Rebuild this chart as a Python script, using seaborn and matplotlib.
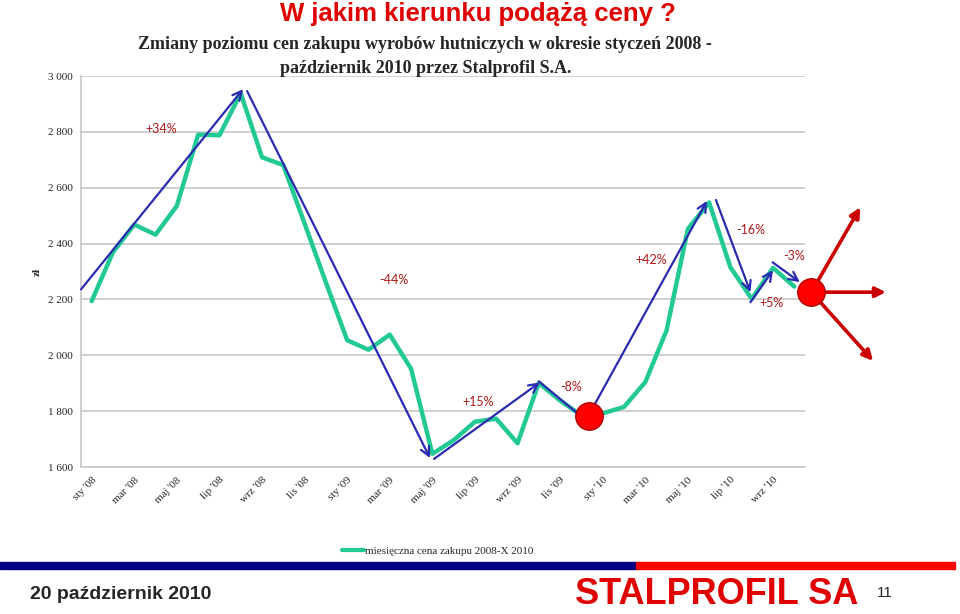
import pandas as pd
import seaborn as sns
import matplotlib.pyplot as plt
from matplotlib import font_manager
from matplotlib.lines import Line2D
from matplotlib.patches import Rectangle

# Dane: miesieczna cena zakupu (zl), styczen 2008 - pazdziernik 2010
miesiace = ["sty '08", "lut '08", "mar '08", "kwi '08", "maj '08", "cze '08",
            "lip '08", "sie '08", "wrz '08", "paź '08", "lis '08", "gru '08",
            "sty '09", "lut '09", "mar '09", "kwi '09", "maj '09", "cze '09",
            "lip '09", "sie '09", "wrz '09", "paź '09", "lis '09", "gru '09",
            "sty '10", "lut '10", "mar '10", "kwi '10", "maj '10", "cze '10",
            "lip '10", "sie '10", "wrz '10", "paź '10"]
ceny = [2194, 2369, 2468, 2432, 2535, 2790, 2788, 2938, 2709, 2681, 2472, 2261,
        2054, 2020, 2074, 1952, 1647, 1696, 1762, 1773, 1685, 1901, 1838, 1785,
        1792, 1815, 1904, 2089, 2452, 2547, 2315, 2202, 2313, 2246]

# Trendy (poczatek -> koniec, indeks miesiaca i cena)
trend_x0 = [-0.5, 7.3, 16.08, 21.0, 23.6, 29.32, 30.94, 31.98]
trend_y0 = [2236, 2946, 1629, 1907, 1821, 2556, 2190, 2333]
trend_x1 = [7.11, 15.89, 21.05, 22.8, 28.9, 30.94, 32.0, 33.26]
trend_y1 = [2953, 1632, 1903, 1793, 2553, 2226, 2305, 2262]
trend_grot = [True, True, True, False, True, True, True, True]

zmiany = ["+34%", "-44%", "+15%", "-8%", "+42%", "-16%", "-3%", "+5%"]
zmiany_x = [3.26, 14.2, 18.14, 22.5, 26.3, 30.96, 33.0, 31.95]
zmiany_y = [2810, 2271, 1832, 1886, 2343, 2450, 2357, 2186]

# punkty zwrotne i mozliwe kierunki
punkty_x = [23.34, 33.8]
punkty_y = [1782, 2226]
kierunki_x = [36.1, 37.3, 36.7]
kierunki_y = [2530, 2226, 1980]

df = pd.DataFrame({"nr": range(len(ceny)), "cena": ceny})

sns.set_theme(style="white")
plt.rcParams['font.family'] = ['Liberation Serif', 'DejaVu Serif']

# waska czcionka do logo, jesli jest
dostepne = {f.name for f in font_manager.fontManager.ttflist}
if 'DejaVu Sans Condensed' in dostepne:
    logo_font, logo_size = 'DejaVu Sans Condensed', 29
elif 'Liberation Sans Narrow' in dostepne:
    logo_font, logo_size = 'Liberation Sans Narrow', 31
else:
    logo_font, logo_size = 'Liberation Sans', 26

fig = plt.figure(figsize=(9.6, 6.14), dpi=100)
ax = fig.add_axes([0.0844, 0.2394, 0.7541, 0.6368])

zielony = '#22C994'
niebieski = '#2B2BB0'

sns.lineplot(data=df, x="nr", y="cena", ax=ax, color=zielony, lw=3.2, zorder=3)

for x0, y0, x1, y1, g in zip(trend_x0, trend_y0, trend_x1, trend_y1, trend_grot):
    ax.annotate("", xy=(x1, y1), xytext=(x0, y0), annotation_clip=False,
                arrowprops=dict(arrowstyle='->' if g else '-', color=niebieski,
                                lw=1.6, shrinkA=0, shrinkB=0, mutation_scale=16),
                zorder=4)

for kx, ky in zip(kierunki_x, kierunki_y):
    ax.annotate("", xy=(kx, ky), xytext=(punkty_x[1], punkty_y[1]), annotation_clip=False,
                arrowprops=dict(arrowstyle='-|>', color='#CC0000', lw=2.6,
                                shrinkA=0, shrinkB=0, mutation_scale=15),
                zorder=5)

ax.scatter(punkty_x, punkty_y, s=390, color='#FF0000', edgecolor='#B00000',
           lw=1, zorder=6, clip_on=False)

for t, x, y in zip(zmiany, zmiany_x, zmiany_y):
    ax.text(x, y, t, color='#B01818', fontsize=9, family=['Lato', 'DejaVu Sans'],
            ha='center', va='center', zorder=7)

ax.set_xlim(-0.5, len(ceny) - 0.5)
ax.set_ylim(1600, 3000)
yt = list(range(1600, 3001, 200))
ax.set_yticks(yt)
ax.set_yticklabels([f"{v:,}".replace(",", " ") for v in yt], fontsize=8)
ax.set_xticks(range(0, len(ceny), 2))
ax.set_xticklabels(miesiace[::2], rotation=45, ha='right', rotation_mode='anchor', fontsize=8)
ax.tick_params(length=0, pad=6)
ax.grid(axis='y', color='#C8C8C8', lw=1.2)
ax.set_xlabel("")
ax.set_ylabel("zł", fontsize=8, fontweight='bold', labelpad=4)
for s in ['top', 'right']:
    ax.spines[s].set_visible(False)
for s in ['left', 'bottom']:
    ax.spines[s].set_color('#C8C8C8')
    ax.spines[s].set_linewidth(1.2)

fig.legend(handles=[Line2D([], [], color=zielony, lw=3)],
           labels=["miesięczna cena zakupu 2008-X 2010"],
           loc='center', bbox_to_anchor=(0.456, 0.103), frameon=False,
           fontsize=8, handlelength=2.0, handletextpad=0.1)

fig.text(0.498, 0.977, "W jakim kierunku podążą ceny ?", color='#E00000',
         fontsize=18.5, fontweight='bold', family=['Liberation Sans', 'DejaVu Sans'],
         ha='center', va='center')
fig.text(0.443, 0.927, "Zmiany poziomu cen zakupu wyrobów hutniczych w okresie styczeń 2008 -",
         fontsize=13, fontweight='bold', ha='center', va='center')
fig.text(0.443, 0.888, "październik 2010 przez Stalprofil S.A.",
         fontsize=13, fontweight='bold', ha='center', va='center')

fig.patches.append(Rectangle((0, 0.0733), 0.6625, 0.0114, transform=fig.transFigure,
                             color='#000080', zorder=1))
fig.patches.append(Rectangle((0.6625, 0.0733), 0.332, 0.0114, transform=fig.transFigure,
                             color='#FF0000', zorder=1))

fig.text(0.031, 0.031, "20 październik 2010", fontsize=14, fontweight='bold',
         family=['Liberation Sans', 'DejaVu Sans'], ha='left', va='center')
fig.text(0.747, 0.032, "STALPROFIL SA", fontsize=logo_size, fontweight='bold', color='#E00000',
         family=[logo_font, 'DejaVu Sans'], ha='center', va='center')
fig.text(0.922, 0.034, "11", fontsize=11, family=['Liberation Sans', 'DejaVu Sans'],
         ha='center', va='center')

fig.savefig("out.png", dpi=100)
